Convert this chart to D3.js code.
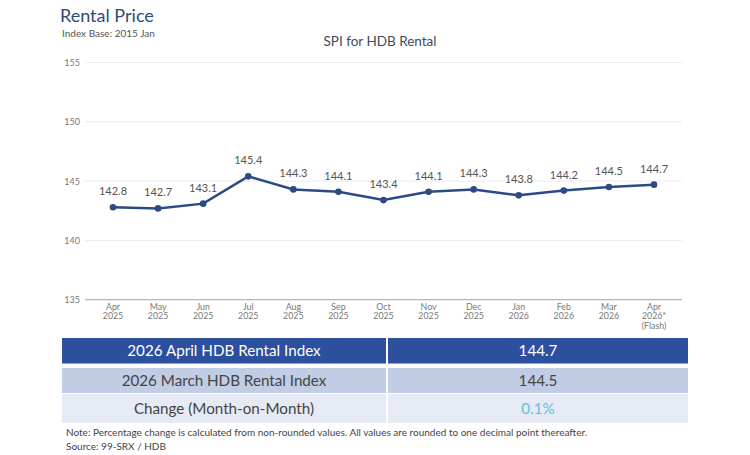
<!DOCTYPE html>
<html>
<head>
<meta charset="UTF-8">
<script src="https://cdn.jsdelivr.net/npm/d3@7"></script>
<style>
body {margin:0; background:#fff;}
text {font-family: Lato, "Open Sans", sans-serif;}
</style>
</head>
<body>
<svg id="chart" width="750" height="455"></svg>
<script>
var months = ["Apr 2025","May 2025","Jun 2025","Jul 2025","Aug 2025","Sep 2025","Oct 2025","Nov 2025","Dec 2025","Jan 2026","Feb 2026","Mar 2026","Apr 2026*"];
var values = [142.8,142.7,143.1,145.4,144.3,144.1,143.4,144.1,144.3,143.8,144.2,144.5,144.7];
var yTicks = [135,140,145,150,155];
var tableRows = [
    ["2026 April HDB Rental Index","144.7"],
    ["2026 March HDB Rental Index","144.5"],
    ["Change (Month-on-Month)","0.1%"]
];

var svg = d3.select("#chart");

// header
svg.append("text").attr("x",60).attr("y",22).attr("font-size",18).attr("fill","#2e4a78").text("Rental Price");
svg.append("text").attr("x",62).attr("y",37).attr("font-size",10).attr("fill","#555").text("Index Base: 2015 Jan");
svg.append("text").attr("x",380).attr("y",46).attr("text-anchor","middle").attr("font-size",13.5).attr("fill","#3d4a5c").text("SPI for HDB Rental");

var x = d3.scalePoint().domain(months).range([113,654]);
var y = d3.scaleLinear().domain([135,155]).range([299.7,62.5]);

// grid
svg.append("g").selectAll("line").data(yTicks.slice(1)).join("line")
    .attr("x1",85).attr("x2",682).attr("y1",d=>y(d)).attr("y2",d=>y(d))
    .attr("stroke","#ececec").attr("stroke-width",1);
svg.append("line").attr("x1",85).attr("x2",682).attr("y1",y(135)).attr("y2",y(135))
    .attr("stroke","#b5b5b5").attr("stroke-width",1.2);

svg.append("g").selectAll("text").data(yTicks).join("text")
    .attr("x",80).attr("y",d=>y(d)+3.5).attr("text-anchor","end")
    .attr("font-size",9).attr("fill","#777").text(d=>d);

// x labels
var xl = svg.append("g").selectAll("text").data(months).join("text")
    .attr("x",d=>x(d)).attr("y",310).attr("text-anchor","middle")
    .attr("font-size",8.8).attr("fill","#777");
xl.each(function(d){
    var parts = d.split(" ");
    if (d.indexOf("*") > 0) parts.push("(Flash)");
    d3.select(this).selectAll("tspan").data(parts).join("tspan")
        .attr("x",x(d)).attr("dy",(p,i)=>i==0?0:9.3).text(p=>p);
});

// line
var line = d3.line().x((d,i)=>x(months[i])).y(d=>y(d));
svg.append("path").datum(values).attr("d",line).attr("fill","none")
    .attr("stroke","#2b4a86").attr("stroke-width",2.5);
svg.append("g").selectAll("circle").data(values).join("circle")
    .attr("cx",(d,i)=>x(months[i])).attr("cy",d=>y(d)).attr("r",3.3).attr("fill","#2b4a86");
svg.append("g").selectAll("text").data(values).join("text")
    .attr("x",(d,i)=>x(months[i])).attr("y",d=>y(d)-12).attr("text-anchor","middle")
    .attr("font-size",11).attr("fill","#555").text(d=>d.toFixed(1));

// table
var rowY = [338,368,394], rowH = [25.5,25,29];
var rowFill = ["#2c4f9e","#c1cce5","#e5eaf5"];
var rowText = ["#fff","#444","#444"];
var tbl = svg.append("g");
tableRows.forEach(function(r,i){
    tbl.append("rect").attr("x",62).attr("y",rowY[i]).attr("width",324).attr("height",rowH[i]).attr("fill",rowFill[i]);
    tbl.append("rect").attr("x",388).attr("y",rowY[i]).attr("width",300).attr("height",rowH[i]).attr("fill",rowFill[i]);
    tbl.append("text").attr("x",224).attr("y",rowY[i]+rowH[i]/2+5).attr("text-anchor","middle")
        .attr("font-size",15.2).attr("fill",rowText[i]).text(r[0]);
    tbl.append("text").attr("x",538).attr("y",rowY[i]+rowH[i]/2+5).attr("text-anchor","middle")
        .attr("font-size",15.2).attr("fill",i==2?"#5cc3d3":rowText[i]).text(r[1]);
});

svg.append("text").attr("x",66).attr("y",436).attr("font-size",10).attr("fill","#444")
    .text("Note: Percentage change is calculated from non-rounded values.  All values are rounded to one decimal point thereafter.");
svg.append("text").attr("x",66).attr("y",450).attr("font-size",10).attr("fill","#444").text("Source: 99-SRX / HDB");
</script>
</body>
</html>
